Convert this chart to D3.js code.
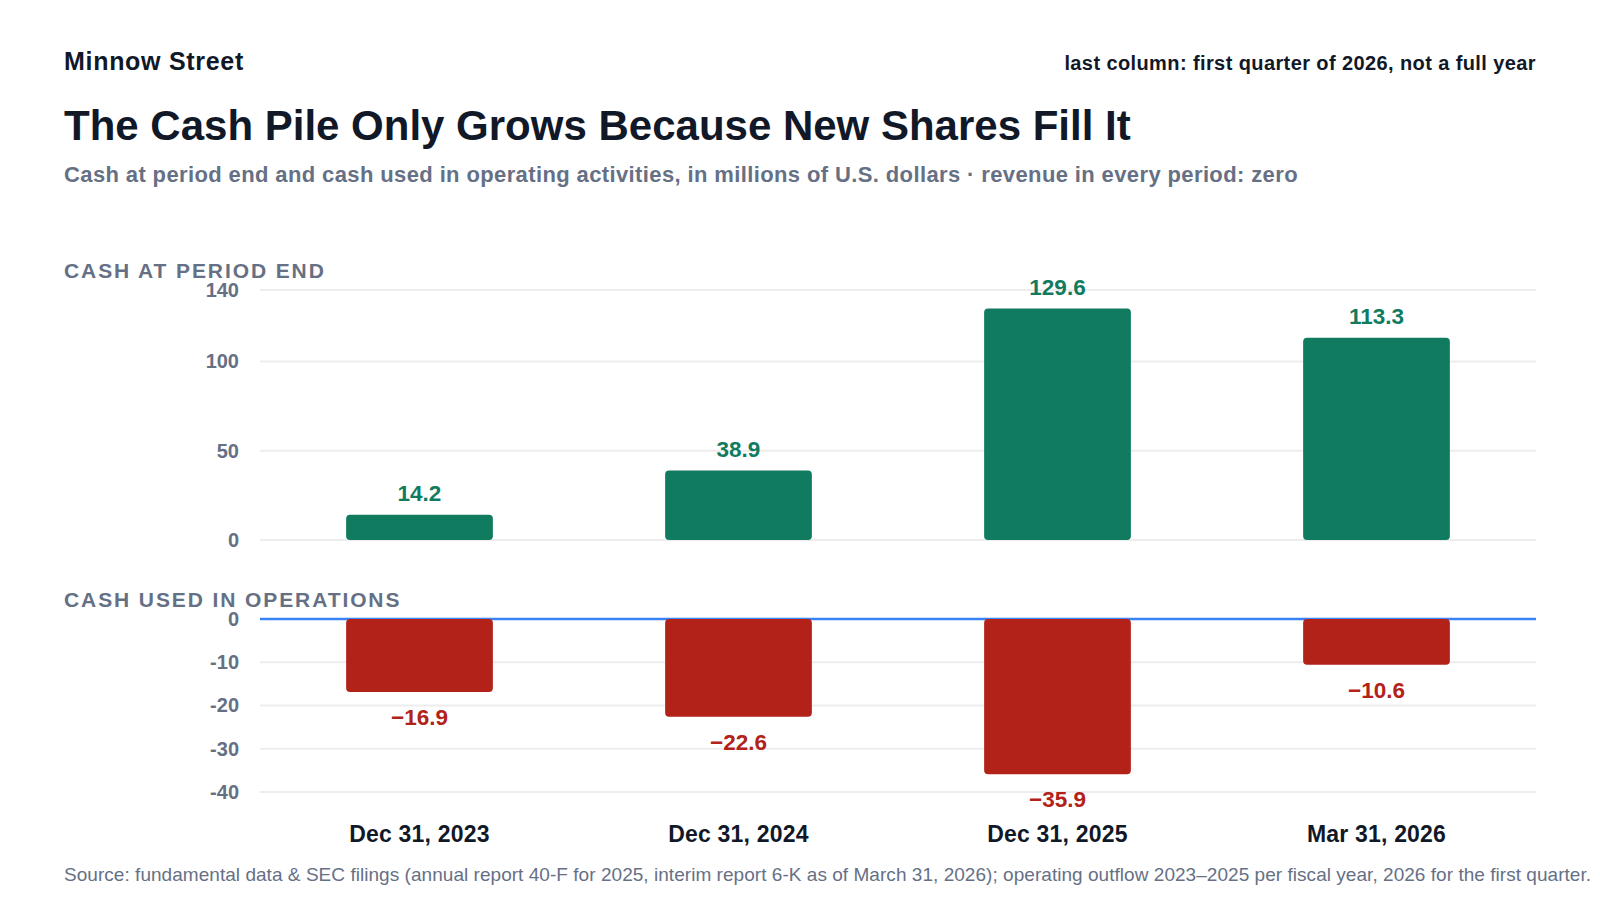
<!DOCTYPE html>
<html>
<head>
<meta charset="utf-8">
<script src="https://cdn.jsdelivr.net/npm/d3@7"></script>
<style>
  html, body { margin: 0; padding: 0; background: #ffffff; }
  svg { display: block; font-family: "Liberation Sans", Arial, Helvetica, sans-serif; }
</style>
</head>
<body>
<div id="chart"></div>
<script>
// periods shown on the x axis
var periods = ["Dec 31, 2023", "Dec 31, 2024", "Dec 31, 2025", "Mar 31, 2026"];
// cash at period end, USD millions
var cashEnd = [14.2, 38.9, 129.6, 113.3];
// cash used in operating activities, USD millions
var opsCash = [-16.9, -22.6, -35.9, -10.6];
var cashTicks = [0, 50, 100, 140];
var opsTicks = [0, -10, -20, -30, -40];

var W = 1600, H = 900;
var left = 260, right = 1536;

var green = "#107b5f", red = "#b22219", grid = "#ededed";
var ink = "#111827", slate = "#667085";

var svg = d3.select("#chart").append("svg")
	.attr("width", W).attr("height", H);

// header
svg.append("text").attr("x", 64).attr("y", 70)
	.attr("font-size", 25).attr("font-weight", 700).attr("fill", ink)
	.attr("letter-spacing", 0.7)
	.text("Minnow Street");
svg.append("text").attr("x", right).attr("y", 70).attr("text-anchor", "end")
	.attr("font-size", 20).attr("font-weight", 700).attr("fill", ink)
	.attr("letter-spacing", 0.4)
	.text("last column: first quarter of 2026, not a full year");
svg.append("text").attr("x", 64).attr("y", 140)
	.attr("font-size", 42).attr("font-weight", 700).attr("fill", ink)
	.text("The Cash Pile Only Grows Because New Shares Fill It");
svg.append("text").attr("x", 64).attr("y", 182)
	.attr("font-size", 22).attr("font-weight", 700).attr("fill", slate)
	.attr("letter-spacing", 0.38)
	.text("Cash at period end and cash used in operating activities, in millions of U.S. dollars \u00b7 revenue in every period: zero");

var x = d3.scaleBand().domain(periods).range([left, right])
	.paddingInner(0.54).paddingOuter(0.27);

var yTop = d3.scaleLinear().domain([0, 140]).range([540, 290]);
var yBot = d3.scaleLinear().domain([-40, 0]).range([792, 619]);

function fmt(v)
{
	return (v < 0 ? "\u2212" : "") + Math.abs(v).toFixed(1);
}

function panel(label, labelY, y, ticks, values, color, zeroColor)
{
	var g = svg.append("g");

	g.append("text").attr("x", 64).attr("y", labelY)
		.attr("font-size", 21).attr("font-weight", 700).attr("fill", slate)
		.attr("letter-spacing", 1.9)
		.text(label);

	g.selectAll("line.grid").data(ticks).enter().append("line")
		.attr("class", "grid")
		.attr("x1", left).attr("x2", right)
		.attr("y1", function(d) { return y(d); })
		.attr("y2", function(d) { return y(d); })
		.attr("stroke", function(d) { return d == 0 && zeroColor ? zeroColor : grid; })
		.attr("stroke-width", function(d) { return d == 0 && zeroColor ? 2.5 : 2; });

	var axis = d3.axisLeft(y).tickValues(ticks).tickSize(0).tickPadding(0)
		.tickFormat(function(d) { return d3.format("d")(d).replace("\u2212", "-"); });
	var ax = g.append("g").attr("transform", "translate(239,0)").call(axis);
	ax.select(".domain").remove();
	ax.selectAll("text")
		.attr("font-family", "\"Liberation Sans\", Arial, sans-serif")
		.attr("font-size", 20).attr("font-weight", 700).attr("fill", slate);

	g.selectAll("rect.bar").data(values).enter().append("rect")
		.attr("class", "bar")
		.attr("x", function(d, i) { return x(periods[i]); })
		.attr("width", x.bandwidth())
		.attr("y", function(d) { return Math.min(y(0), y(d)); })
		.attr("height", function(d) { return Math.abs(y(d) - y(0)); })
		.attr("rx", 4).attr("ry", 4)
		.attr("fill", color);

	g.selectAll("text.val").data(values).enter().append("text")
		.attr("class", "val")
		.attr("x", function(d, i) { return x(periods[i]) + x.bandwidth() / 2; })
		.attr("y", function(d) { return d >= 0 ? y(d) - 14 : y(d) + 33; })
		.attr("text-anchor", "middle")
		.attr("font-size", 22.5).attr("font-weight", 700).attr("fill", color)
		.text(fmt);
}

panel("CASH AT PERIOD END", 278, yTop, cashTicks, cashEnd, green, null);
panel("CASH USED IN OPERATIONS", 607, yBot, opsTicks, opsCash, red, "#3b82f6");

// category labels under the lower panel
svg.selectAll("text.cat").data(periods).enter().append("text")
	.attr("class", "cat")
	.attr("x", function(d) { return x(d) + x.bandwidth() / 2; })
	.attr("y", 842)
	.attr("text-anchor", "middle")
	.attr("font-size", 23).attr("font-weight", 700).attr("fill", ink)
	.attr("letter-spacing", 0.2)
	.text(function(d) { return d; });

svg.append("text").attr("x", 64).attr("y", 881)
	.attr("font-size", 19).attr("fill", slate)
	.attr("letter-spacing", 0.04)
	.text("Source: fundamental data & SEC filings (annual report 40-F for 2025, interim report 6-K as of March 31, 2026); operating outflow 2023\u20132025 per fiscal year, 2026 for the first quarter.");
</script>
</body>
</html>
